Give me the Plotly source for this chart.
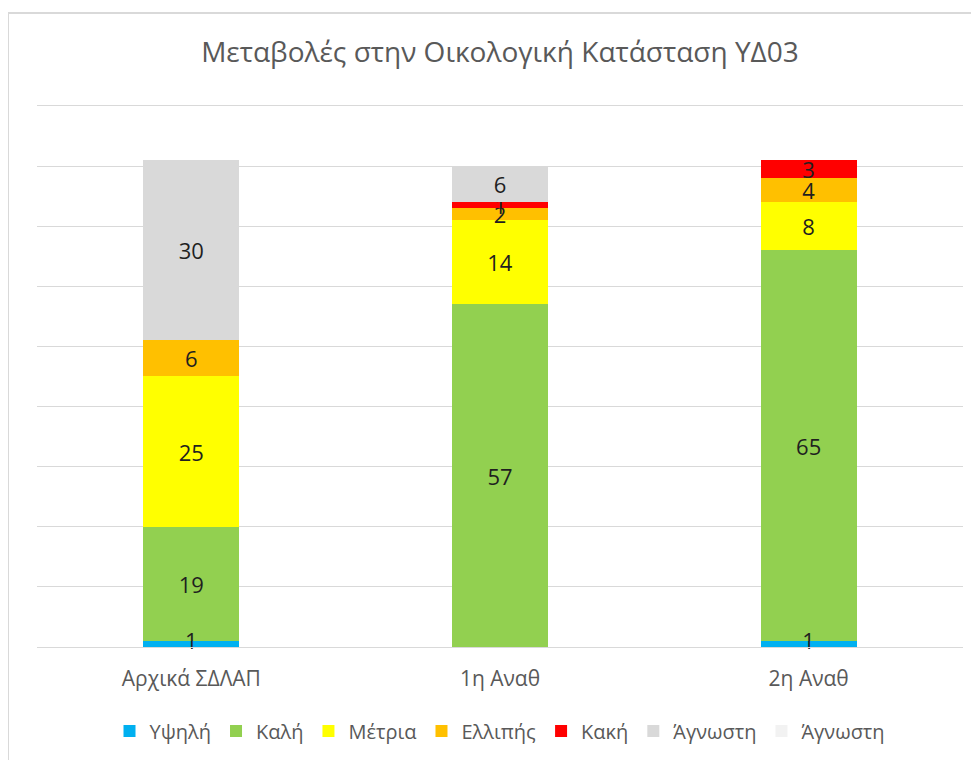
import plotly.graph_objects as go

categories = ["Αρχικά ΣΔΛΑΠ", "1η Αναθ", "2η Αναθ"]
series_names = ["Υψηλή", "Καλή", "Μέτρια", "Ελλιπής", "Κακή", "Άγνωστη", "Άγνωστη"]
ypsili = [1, 0, 1]
kali = [19, 57, 65]
metria = [25, 14, 8]
ellipis = [6, 2, 4]
kaki = [0, 1, 3]
agnosti = [30, 6, 0]
agnosti2 = [0, 0, 0]
series_values = [ypsili, kali, metria, ellipis, kaki, agnosti, agnosti2]
colors = ["#00B0F0", "#92D050", "#FFFF00", "#FFC000", "#FF0000", "#D9D9D9", "#F2F2F2"]

FONT = "Open Sans"
OFF = 8  # browser default body margin

W, H = 979 - OFF, 760 - OFF
PL, PR, PT, PB = 37, 963, 104, 647  # plot area in window pixels
pw, ph = PR - PL, PB - PT
YMAX = 90.33

fig = go.Figure()
for i, (name, vals, col) in enumerate(zip(series_names, series_values, colors)):
    fig.add_trace(go.Bar(
        x=categories, y=vals, name=name,
        marker=dict(color=col, line=dict(width=0)),
        text=[str(v) if v else "" for v in vals] if i > 0 else None,
        textposition="inside" if i > 0 else "none", insidetextanchor="middle",
        textangle=0, constraintext="none", cliponaxis=False,
        textfont=dict(family=FONT, size=22, color="#1f1f1f"),
        hoverinfo="skip",
    ))

# labels of the thin bottom series, drawn on top of everything
fig.add_trace(go.Scatter(
    x=categories, y=[v / 2 for v in ypsili], mode="text",
    text=[str(v) if v else "" for v in ypsili],
    textposition="middle center", cliponaxis=False,
    textfont=dict(family=FONT, size=22, color="#1f1f1f"),
    showlegend=False, hoverinfo="skip",
))

fig.update_layout(
    barmode="stack",
    bargap=0.69,
    width=W, height=H,
    margin=dict(l=PL - OFF, r=979 - PR, t=PT - OFF, b=760 - PB, autoexpand=False),
    paper_bgcolor="white", plot_bgcolor="white",
    uniformtext=dict(minsize=22, mode="show"),
    title=dict(text="Μεταβολές στην Οικολογική Κατάσταση ΥΔ03",
               x=0.5 * (PL + PR - 2 * OFF) / W, xanchor="center",
               y=1 - (52 - OFF) / H, yanchor="middle",
               font=dict(family=FONT, size=28, color="#595959")),
    showlegend=True,
    legend=dict(orientation="h", x=0.5, xanchor="center",
                y=-(731 - PB) / ph, yanchor="middle",
                traceorder="normal",
                font=dict(family=FONT, size=20, color="#595959"),
                itemwidth=30),
    font=dict(family=FONT),
)
fig.update_xaxes(showline=True, linecolor="#D9D9D9", linewidth=1,
                 ticks="", ticklabelstandoff=13,
                 tickfont=dict(family=FONT, size=21, color="#595959"))
fig.update_yaxes(range=[0, YMAX], dtick=10, showticklabels=False,
                 gridcolor="#D9D9D9", gridwidth=1, zeroline=False)

# outer chart border
fig.add_shape(type="rect", xref="paper", yref="paper",
              x0=(8 - PL) / pw, x1=1.2, y0=-0.4, y1=(PB - 13) / ph,
              line=dict(color="#D9D9D9", width=2), fillcolor="rgba(0,0,0,0)", layer="below")

fig.write_html("out.html")
